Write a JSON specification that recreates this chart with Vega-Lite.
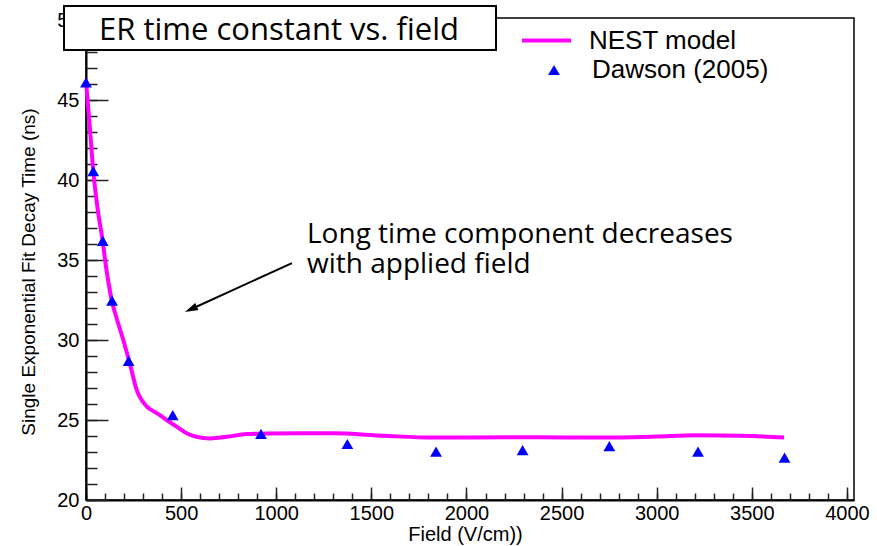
{
  "$schema": "https://vega.github.io/schema/vega-lite/v6.json",
  "width": 768,
  "height": 482,
  "autosize": {"type": "none"},
  "padding": {"left": 86, "top": 18, "right": 23, "bottom": 46},
  "background": "white",
  "config": {
    "view": {"stroke": "black", "strokeWidth": 1.5},
    "font": "Liberation Sans"
  },
  "datasets": {
    "nest": [
      {"field": 0, "tau": 46.2},
      {"field": 20, "tau": 43.3},
      {"field": 38, "tau": 40.6},
      {"field": 60, "tau": 38.3},
      {"field": 88, "tau": 36.15},
      {"field": 105, "tau": 34.6},
      {"field": 135, "tau": 32.5},
      {"field": 165, "tau": 31.2},
      {"field": 196, "tau": 30.0},
      {"field": 231, "tau": 28.5},
      {"field": 266, "tau": 26.9},
      {"field": 319, "tau": 25.85},
      {"field": 370, "tau": 25.45},
      {"field": 424, "tau": 25.0},
      {"field": 480, "tau": 24.55},
      {"field": 529, "tau": 24.17},
      {"field": 580, "tau": 23.95},
      {"field": 652, "tau": 23.85},
      {"field": 740, "tau": 23.95},
      {"field": 845, "tau": 24.12},
      {"field": 950, "tau": 24.15},
      {"field": 1125, "tau": 24.17},
      {"field": 1300, "tau": 24.17},
      {"field": 1563, "tau": 24.02},
      {"field": 1826, "tau": 23.9},
      {"field": 2295, "tau": 23.92},
      {"field": 2751, "tau": 23.9},
      {"field": 3000, "tau": 23.97},
      {"field": 3210, "tau": 24.04},
      {"field": 3437, "tau": 24.02},
      {"field": 3669, "tau": 23.9}
    ],
    "dawson": [
      {"field": 0, "tau": 46.1},
      {"field": 38, "tau": 40.56},
      {"field": 88, "tau": 36.19},
      {"field": 137, "tau": 32.46},
      {"field": 224, "tau": 28.69},
      {"field": 456, "tau": 25.31},
      {"field": 920, "tau": 24.13},
      {"field": 1374, "tau": 23.5},
      {"field": 1840, "tau": 23.02},
      {"field": 2295, "tau": 23.12},
      {"field": 2751, "tau": 23.37},
      {"field": 3217, "tau": 23.02},
      {"field": 3672, "tau": 22.65}
    ]
  },
  "layer": [
    {
      "data": {"name": "nest"},
      "mark": {"type": "line", "strokeWidth": 4, "interpolate": "monotone"},
      "encoding": {
        "x": {
          "field": "field", "type": "quantitative",
          "scale": {"domain": [0, 4037], "nice": false, "zero": false},
          "axis": {
            "orient": "bottom",
            "values": [0, 500, 1000, 1500, 2000, 2500, 3000, 3500, 4000],
            "format": "d", "grid": false,
            "tickSize": -13, "tickWidth": 1.5, "tickColor": "#222",
            "domainColor": "black", "domainWidth": 2,
            "labelFont": "Liberation Sans", "labelFontSize": 20, "labelColor": "black",
            "labelPadding": 16, "labelFlush": false, "labelOverlap": false,
            "title": "Field (V/cm))",
            "titleFont": "Liberation Sans", "titleFontSize": 20, "titleFontWeight": "normal",
            "titleColor": "black", "titleX": 379, "titleY": 34, "titleBaseline": "middle"
          }
        },
        "y": {
          "field": "tau", "type": "quantitative",
          "scale": {"domain": [20, 50.125], "nice": false, "zero": false},
          "axis": {
            "orient": "left",
            "values": [20, 25, 30, 35, 40, 45, 50],
            "format": "d", "grid": false,
            "tickSize": -22, "tickWidth": 1.5, "tickColor": "#222",
            "domainColor": "black", "domainWidth": 2,
            "labelFont": "Liberation Sans", "labelFontSize": 20, "labelColor": "black",
            "labelPadding": 29, "labelFlush": false, "labelOverlap": false,
            "title": "Single Exponential Fit Decay Time (ns)",
            "titleFont": "Liberation Sans", "titleFontSize": 19, "titleFontWeight": "normal",
            "titleColor": "black", "titleX": -58, "titleY": 253.5, "titleBaseline": "middle"
          }
        },
        "color": {
          "datum": "NEST model", "type": "nominal",
          "scale": {"range": ["#ff00ff"]},
          "legend": {
            "orient": "none", "legendX": 434, "legendY": -4, "title": null, "padding": 0,
            "symbolType": "stroke", "symbolSize": 2401, "symbolStrokeWidth": 4,
            "labelFont": "Liberation Sans", "labelFontSize": 26, "labelColor": "black",
            "labelOffset": 16, "labelLimit": 400
          }
        }
      }
    },
    {
      "data": {"name": "dawson"},
      "mark": {"type": "point", "filled": true, "color": "#0000ff", "opacity": 1, "size": 140},
      "encoding": {
        "x": {
          "field": "field", "type": "quantitative",
          "axis": {
            "orient": "bottom",
            "values": [0, 100, 200, 300, 400, 500, 600, 700, 800, 900, 1000, 1100, 1200, 1300, 1400, 1500, 1600, 1700, 1800, 1900, 2000, 2100, 2200, 2300, 2400, 2500, 2600, 2700, 2800, 2900, 3000, 3100, 3200, 3300, 3400, 3500, 3600, 3700, 3800, 3900, 4000],
            "grid": false, "domain": false, "labels": false, "title": null,
            "tickSize": -7, "tickWidth": 1.5, "tickColor": "#222"
          }
        },
        "y": {
          "field": "tau", "type": "quantitative",
          "axis": {
            "orient": "left",
            "values": [20, 21, 22, 23, 24, 25, 26, 27, 28, 29, 30, 31, 32, 33, 34, 35, 36, 37, 38, 39, 40, 41, 42, 43, 44, 45, 46, 47, 48, 49, 50],
            "grid": false, "domain": false, "labels": false, "title": null,
            "tickSize": -11, "tickWidth": 1.5, "tickColor": "#222"
          }
        },
        "shape": {
          "datum": "Dawson (2005)", "type": "nominal",
          "scale": {"range": ["triangle-up"]},
          "legend": {
            "orient": "none", "legendX": 455, "legendY": 39, "title": null, "padding": 0,
            "symbolSize": 140, "symbolFillColor": "#0000ff", "symbolStrokeWidth": 0,
            "labelFont": "Liberation Sans", "labelFontSize": 26, "labelColor": "black",
            "labelOffset": 25, "labelLimit": 400
          }
        }
      }
    },
    {
      "data": {"values": [{}]},
      "mark": {"type": "rect", "fill": "white", "stroke": "black", "strokeWidth": 2},
      "encoding": {
        "x": {"datum": -115.6, "type": "quantitative", "axis": null},
        "x2": {"datum": 2155.2},
        "y": {"datum": 50.875, "type": "quantitative", "axis": null},
        "y2": {"datum": 48.125}
      }
    },
    {
      "data": {"values": [{}]},
      "mark": {"type": "text", "font": "Open Sans", "fontSize": 31, "align": "center", "baseline": "alphabetic", "color": "black"},
      "encoding": {
        "x": {"datum": 1014.5, "type": "quantitative", "axis": null},
        "y": {"datum": 48.75, "type": "quantitative", "axis": null},
        "text": {"value": "ER time constant vs. field"}
      }
    },
    {
      "data": {"values": [{}]},
      "mark": {"type": "text", "font": "Open Sans", "fontSize": 28, "align": "left", "baseline": "alphabetic", "lineHeight": 30, "color": "black"},
      "encoding": {
        "x": {"datum": 1161.7, "type": "quantitative", "axis": null},
        "y": {"datum": 36.08, "type": "quantitative", "axis": null},
        "text": {"value": ["Long time component decreases", "with applied field"]}
      }
    },
    {
      "data": {"values": [{}]},
      "mark": {"type": "rule", "strokeWidth": 2, "color": "black"},
      "encoding": {
        "x": {"datum": 1082.8, "type": "quantitative", "axis": null},
        "y": {"datum": 34.81, "type": "quantitative", "axis": null},
        "x2": {"datum": 551.4},
        "y2": {"datum": 31.92}
      }
    },
    {
      "data": {"values": [{}]},
      "mark": {"type": "point", "shape": "M0,-1L0.6,1L-0.6,1Z", "size": 169, "angle": 245, "filled": true, "color": "black", "opacity": 1},
      "encoding": {
        "x": {"datum": 551.4, "type": "quantitative", "axis": null},
        "y": {"datum": 31.92, "type": "quantitative", "axis": null}
      }
    }
  ],
  "resolve": {"axis": {"x": "independent", "y": "independent"}}
}
